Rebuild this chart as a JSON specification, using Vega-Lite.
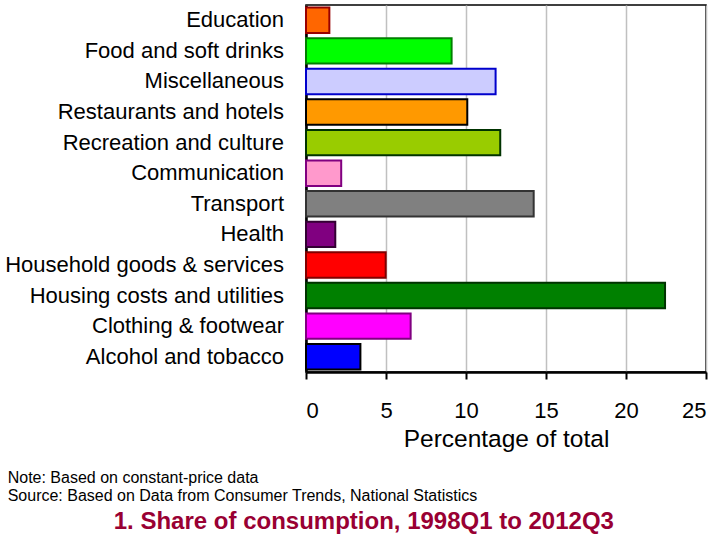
{
  "$schema": "https://vega.github.io/schema/vega-lite/v6.json",
  "background": "white",
  "padding": {"left": 3, "top": 4, "right": 2, "bottom": 2},
  "config": {
    "font": "Liberation Sans",
    "view": {"stroke": "black", "strokeWidth": 1.5},
    "concat": {"spacing": 0}
  },
  "title": {
    "text": "1. Share of consumption, 1998Q1 to 2012Q3",
    "orient": "bottom",
    "anchor": "middle",
    "fontSize": 24,
    "fontWeight": "bold",
    "color": "#990033",
    "font": "Liberation Sans",
    "offset": 6,
    "dx": 8
  },
  "data": {
    "values": [
      {"category": "Education", "share": 1.46},
      {"category": "Food and soft drinks", "share": 9.1},
      {"category": "Miscellaneous", "share": 11.85},
      {"category": "Restaurants and hotels", "share": 10.08},
      {"category": "Recreation and culture", "share": 12.14},
      {"category": "Communication", "share": 2.2},
      {"category": "Transport", "share": 14.23},
      {"category": "Health", "share": 1.83},
      {"category": "Household goods & services", "share": 4.98},
      {"category": "Housing costs and utilities", "share": 22.44},
      {"category": "Clothing & footwear", "share": 6.54},
      {"category": "Alcohol and tobacco", "share": 3.4}
    ]
  },
  "vconcat": [
    {
      "width": 400,
      "height": 367,
      "title": {
        "text": ["Note: Based on constant-price data", "Source: Based on Data from Consumer Trends, National Statistics"],
        "orient": "bottom",
        "anchor": "start",
        "frame": "bounds",
        "fontSize": 16,
        "fontWeight": "normal",
        "color": "black",
        "font": "Liberation Sans",
        "lineHeight": 18,
        "offset": 19,
        "dx": 3
      },
      "mark": {"type": "bar", "strokeWidth": 2},
      "encoding": {
        "y": {
          "field": "category",
          "type": "nominal",
          "sort": null,
          "scale": {"paddingInner": 0.17, "paddingOuter": 0.085},
          "axis": {
            "title": null,
            "ticks": false,
            "domainColor": "black",
            "domainWidth": 2.5,
            "labelFontSize": 22,
            "labelColor": "black",
            "labelPadding": 22.5,
            "labelLimit": 400
          }
        },
        "x": {
          "field": "share",
          "type": "quantitative",
          "scale": {"domain": [0, 25], "nice": false},
          "axis": {
            "title": "Percentage of total",
            "titleFontSize": 24.5,
            "titleFontWeight": "normal",
            "titleColor": "black",
            "titlePadding": 6,
            "values": [0, 5, 10, 15, 20, 25],
            "labelFontSize": 22,
            "labelColor": "black",
            "labelPadding": 21,
            "tickSize": 7,
            "tickWidth": 2,
            "tickColor": "black",
            "domainColor": "black",
            "domainWidth": 2.5,
            "gridColor": "#C0C0C0",
            "gridWidth": 1.5,
            "grid": true
          }
        },
        "fill": {
          "field": "category",
          "type": "nominal",
          "legend": null,
          "scale": {
            "domain": ["Education", "Food and soft drinks", "Miscellaneous", "Restaurants and hotels", "Recreation and culture", "Communication", "Transport", "Health", "Household goods & services", "Housing costs and utilities", "Clothing & footwear", "Alcohol and tobacco"],
            "range": ["#FF6600", "#00FF00", "#CCCCFF", "#FF9900", "#99CC00", "#FF99CC", "#808080", "#800080", "#FF0000", "#008000", "#FF00FF", "#0000FF"]
          }
        },
        "stroke": {
          "field": "category",
          "type": "nominal",
          "legend": null,
          "scale": {
            "domain": ["Education", "Food and soft drinks", "Miscellaneous", "Restaurants and hotels", "Recreation and culture", "Communication", "Transport", "Health", "Household goods & services", "Housing costs and utilities", "Clothing & footwear", "Alcohol and tobacco"],
            "range": ["#990000", "#008000", "#0000CC", "#000000", "#003300", "#800080", "#333333", "#330033", "#800000", "#003300", "#800080", "#000000"]
          }
        }
      }
    }
  ]
}
